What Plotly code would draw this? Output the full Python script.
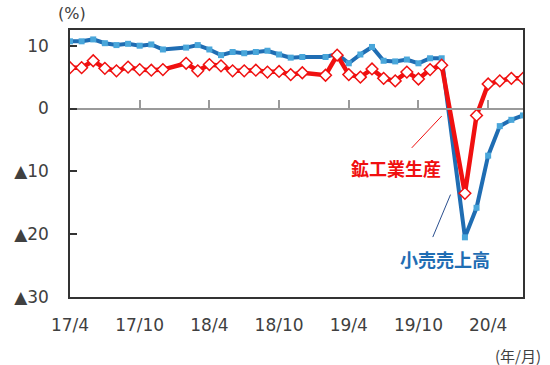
import plotly.graph_objects as go

# ---- data ----
months = ["17/4","17/5","17/6","17/7","17/8","17/9","17/10","17/11","17/12",
          "18/1","18/2","18/3","18/4","18/5","18/6","18/7","18/8","18/9","18/10","18/11","18/12",
          "19/1","19/2","19/3","19/4","19/5","19/6","19/7","19/8","19/9","19/10","19/11","19/12",
          "20/1","20/2","20/3","20/4","20/5","20/6","20/7"]
industrial = [6.5, 6.5, 7.6, 6.4, 6.0, 6.6, 6.2, 6.1, 6.2,
              None, 7.2, 6.0, 7.0, 6.8, 6.0, 6.0, 6.1, 5.8, 5.9, 5.4, 5.7,
              None, 5.3, 8.5, 5.4, 5.0, 6.3, 4.8, 4.4, 5.8, 4.7, 6.2, 6.9,
              None, -13.5, -1.1, 3.9, 4.4, 4.8, 4.8]
retail = [10.7, 10.7, 11.0, 10.4, 10.1, 10.3, 10.0, 10.2, 9.4,
          None, 9.7, 10.1, 9.4, 8.5, 9.0, 8.8, 9.0, 9.2, 8.6, 8.1, 8.2,
          None, 8.2, 8.7, 7.2, 8.6, 9.8, 7.6, 7.5, 7.8, 7.2, 8.0, 8.0,
          None, -20.5, -15.8, -7.5, -2.8, -1.8, -1.1]
xtick_labels = ["17/4", "17/10", "18/4", "18/10", "19/4", "19/10", "20/4"]
ytick_vals = [-30, -20, -10, 0, 10]
ytick_text = ["▲30", "▲20", "▲10", "0", "10"]
y_range = [-30, 12.5]

RED = "#f01010"
BLUE = "#1f6db3"
BLUE_MK = "#49a6da"
GRAY_TXT = "#404040"
FONT = "DejaVu Sans"

fig = go.Figure()
fig.add_trace(go.Scatter(
    x=months, y=retail, mode="lines+markers", connectgaps=True,
    line=dict(color=BLUE, width=4),
    marker=dict(symbol="square", size=6, color=BLUE_MK, line=dict(width=0)),
    showlegend=False, hoverinfo="skip"))
fig.add_trace(go.Scatter(
    x=months, y=industrial, mode="lines+markers", connectgaps=True,
    line=dict(color=RED, width=4.5),
    marker=dict(symbol="diamond", size=9, color="white", line=dict(color=RED, width=1.5)),
    showlegend=False, hoverinfo="skip"))
# invisible trace to carry the zero-line tick axis
fig.add_trace(go.Scatter(x=months, y=[None]*len(months), xaxis="x2", yaxis="y",
                         mode="lines", showlegend=False, hoverinfo="skip"))

zero_pos = (0 - y_range[0]) / (y_range[1] - y_range[0])

fig.update_layout(
    width=550, height=365,
    margin=dict(l=70, r=27, t=30, b=68),
    plot_bgcolor="white", paper_bgcolor="white",
    font=dict(family=FONT, color=GRAY_TXT, size=17),
    xaxis=dict(type="category", categoryorder="array", categoryarray=months,
               range=[0, len(months) - 1], showgrid=False, zeroline=False,
               showline=True, linecolor="#333333", linewidth=1.5, mirror=True,
               ticks="", tickmode="array", tickvals=xtick_labels, ticktext=xtick_labels,
               tickfont=dict(family=FONT, size=17, color=GRAY_TXT),
               ticklabelstandoff=12),
    xaxis2=dict(type="category", categoryorder="array", categoryarray=months,
                matches="x", overlaying="x", anchor="free", position=zero_pos,
                showgrid=False, zeroline=False, showline=True, linecolor="#9a9a9a",
                linewidth=1.5, ticks="inside", ticklen=8, tickwidth=1.5, tickcolor="#9a9a9a",
                tickmode="array", tickvals=xtick_labels, showticklabels=False),
    yaxis=dict(range=y_range, showgrid=False, zeroline=False,
               showline=True, linecolor="#333333", linewidth=1.5, mirror=True,
               ticks="inside", ticklen=7, tickwidth=1.5, tickcolor="#333333",
               tickmode="array", tickvals=ytick_vals, ticktext=ytick_text,
               tickfont=dict(family=FONT, size=17, color=GRAY_TXT),
               ticklabelstandoff=16),
)

fig.add_annotation(xref="paper", yref="paper", x=-0.03, y=1.0, yanchor="bottom", yshift=5,
                   text="(%)", showarrow=False, font=dict(size=16, color=GRAY_TXT))
fig.add_annotation(xref="paper", yref="paper", x=1.045, y=0, xanchor="right", yanchor="middle", yshift=-58,
                   text="(年/月)", showarrow=False, font=dict(size=15, color=GRAY_TXT, family="Noto Sans CJK JP"))

# series labels
fig.add_annotation(x=28.05, y=-9.4, text="<b>鉱工業生産</b>", showarrow=False,
                   font=dict(size=18, color=RED, family="Noto Sans CJK JP"))
fig.add_annotation(x=32.3, y=-23.9, text="<b>小売売上高</b>", showarrow=False,
                   font=dict(size=18, color=BLUE, family="Noto Sans CJK JP"))
# leader lines
fig.add_annotation(x=32.0, y=-1.2, ax=29.3, ay=-6.5, axref="x", ayref="y", text="",
                   showarrow=True, arrowhead=0, arrowwidth=1, arrowcolor=RED)
fig.add_annotation(x=32.76, y=-13.7, ax=31.18, ay=-20.7, axref="x", ayref="y", text="",
                   showarrow=True, arrowhead=0, arrowwidth=1, arrowcolor="#2a4f8f")

fig.write_html("out.html")
